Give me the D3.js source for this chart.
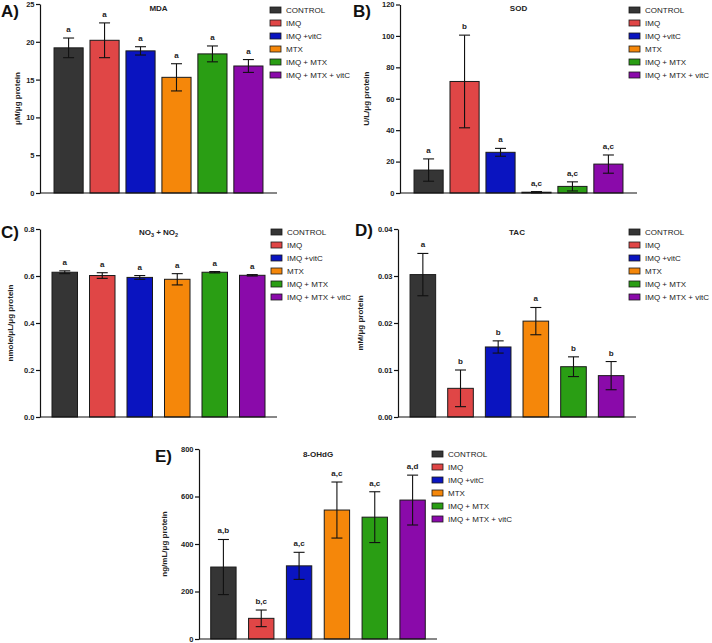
<!DOCTYPE html>
<html><head><meta charset="utf-8">
<script src="https://cdn.jsdelivr.net/npm/d3@7"></script>
<style>body{margin:0;background:#fff}svg{display:block}text{font-family:"Liberation Sans",Arial,sans-serif}</style>
</head><body>
<svg id="c" width="712" height="643"></svg>
<script>
const groups = ["CONTROL","IMQ","IMQ +vitC","MTX","IMQ + MTX","IMQ + MTX + vitC"];
const colors = ["#353535","#e04646","#0a14c0","#f5870a","#2a9e14","#8a0aaa"];

const mdaMean = [19.2,20.2,18.8,15.3,18.4,16.8];
const mdaSd   = [1.3,2.3,0.55,1.8,1.05,0.85];
const mdaSig  = ["a","a","a","a","a","a"];
const mdaTicks = [0,5,10,15,20,25];

const sodMean = [14.6,71.0,25.9,0.5,4.2,18.4];
const sodSd   = [7.1,29.5,2.5,0.4,2.9,5.8];
const sodSig  = ["a","b","a","a,c","a,c","a,c"];
const sodTicks = [0,20,40,60,80,100,120];

const noMean = [0.616,0.602,0.594,0.586,0.616,0.603];
const noSd   = [0.006,0.012,0.008,0.024,0.003,0.003];
const noSig  = ["a","a","a","a","a","a"];
const noTicks = [0,0.2,0.4,0.6,0.8];

const tacMean = [0.0303,0.0061,0.0149,0.0204,0.0107,0.0088];
const tacSd   = [0.0045,0.0039,0.0013,0.0029,0.0021,0.0030];
const tacSig  = ["a","b","b","a","b","b"];
const tacTicks = [0,0.01,0.02,0.03,0.04];

const ohMean = [303,87,308,543,513,585];
const ohSd   = [116,35,57,118,107,105];
const ohSig  = ["a,b","b,c","a,c","a,c","a,c","a,d"];
const ohTicks = [0,200,400,600,800];

const svg = d3.select("#c");

function panel(cfg){
  const g = svg.append("g");
  const x = d3.scaleBand().domain(groups).range([cfg.ax, cfg.axEnd])
    .paddingInner(cfg.pi).paddingOuter(cfg.po);
  const y = d3.scaleLinear().domain([0, cfg.ticks[cfg.ticks.length-1]]).range([cfg.y0, cfg.y1]);
  const cx = x.bandwidth()/2;

  g.selectAll("rect.bar").data(groups).join("rect").attr("class","bar")
    .attr("x", d=>x(d)).attr("width", x.bandwidth())
    .attr("y", (d,i)=>y(cfg.mean[i])).attr("height",(d,i)=>y(0)-y(cfg.mean[i]))
    .attr("fill",(d,i)=>colors[i]).attr("stroke","#1a1a1a").attr("stroke-width",1);

  const eb = g.selectAll("g.eb").data(groups).join("g").attr("class","eb");
  const lo = i=>y(Math.max(0,cfg.mean[i]-cfg.sd[i]));
  const hi = i=>y(cfg.mean[i]+cfg.sd[i]);
  eb.append("line").attr("x1",d=>x(d)+cx).attr("x2",d=>x(d)+cx)
    .attr("y1",(d,i)=>lo(i)).attr("y2",(d,i)=>hi(i))
    .attr("stroke","#111").attr("stroke-width",1.1);
  eb.append("line").attr("x1",d=>x(d)+cx-5.5).attr("x2",d=>x(d)+cx+5.5)
    .attr("y1",(d,i)=>hi(i)).attr("y2",(d,i)=>hi(i))
    .attr("stroke","#111").attr("stroke-width",1.1);
  eb.append("line").attr("x1",d=>x(d)+cx-5.5).attr("x2",d=>x(d)+cx+5.5)
    .attr("y1",(d,i)=>lo(i)).attr("y2",(d,i)=>lo(i))
    .attr("stroke","#111").attr("stroke-width",1.1);
  eb.append("text").attr("x",d=>x(d)+cx).attr("y",(d,i)=>hi(i)-6)
    .attr("text-anchor","middle").attr("font-size",8).attr("font-weight","bold").attr("fill","#222")
    .text((d,i)=>cfg.sig[i]);

  const ya = g.append("g").attr("transform",`translate(${cfg.ax},0)`)
    .call(d3.axisLeft(y).tickValues(cfg.ticks).tickFormat(cfg.fmt).tickSize(4).tickSizeOuter(0));
  ya.select(".domain").attr("stroke","#111").attr("stroke-width",1.2);
  ya.selectAll(".tick line").attr("stroke","#111").attr("stroke-width",1.2);
  ya.selectAll(".tick text").attr("font-size",7.5).attr("font-weight","bold").attr("fill","#222")
    .attr("font-family","Liberation Sans, Arial, sans-serif").attr("x",-5.5);
  g.append("line").attr("x1",cfg.ax).attr("x2",cfg.axEnd).attr("y1",y(0)).attr("y2",y(0))
    .attr("stroke","#111").attr("stroke-width",1.2);

  g.append("text").attr("transform",`translate(${cfg.ax+cfg.ylOff},${(cfg.y0+cfg.y1)/2}) rotate(-90)`)
    .attr("text-anchor","middle").attr("font-size",8).attr("font-weight","bold").attr("fill","#222")
    .text(cfg.ylabel);

  const t = g.append("text").attr("x",(cfg.ax+cfg.axEnd)/2).attr("y",cfg.titleY)
    .attr("text-anchor","middle").attr("font-size",8).attr("font-weight","bold").attr("fill","#222");
  cfg.title.forEach(p=>{
    const ts = t.append("tspan").text(p.t);
    if(p.sub) ts.attr("font-size",5.5).attr("dy",2); else if(p.up) ts.attr("dy",-2);
  });

  g.append("text").attr("x",cfg.lx).attr("y",cfg.ly).attr("font-size",17).attr("font-weight","bold")
    .attr("fill","#111").text(cfg.letter);

  const lg = g.selectAll("g.lg").data(groups).join("g").attr("class","lg")
    .attr("transform",(d,i)=>`translate(${cfg.lgx},${cfg.lgy+i*13})`);
  lg.append("rect").attr("x",0).attr("y",-3).attr("width",11).attr("height",6)
    .attr("fill",(d,i)=>colors[i]).attr("stroke","#1a1a1a").attr("stroke-width",0.8);
  lg.append("text").attr("x",16).attr("y",3).attr("font-size",8).attr("fill","#222").text(d=>d);
}

panel({mean:mdaMean,sd:mdaSd,sig:mdaSig,ticks:mdaTicks,fmt:d3.format("d"),
  ax:40,axEnd:277,y0:193,y1:4,pi:0.19,po:0.39,ylabel:"μM/μg protein",ylOff:-20,
  title:[{t:"MDA"}],titleY:11,letter:"A)",lx:1,ly:17,lgx:270,lgy:10});
panel({mean:sodMean,sd:sodSd,sig:sodSig,ticks:sodTicks,fmt:d3.format("d"),
  ax:400,axEnd:637,y0:193,y1:4.5,pi:0.19,po:0.39,ylabel:"U/L/μg protein",ylOff:-31,
  title:[{t:"SOD"}],titleY:11,letter:"B)",lx:353,ly:17,lgx:629,lgy:10});
panel({mean:noMean,sd:noSd,sig:noSig,ticks:noTicks,fmt:d3.format(".1f"),
  ax:40,axEnd:277,y0:417,y1:229,pi:0.32,po:0.32,ylabel:"nmole/μL/μg protein",ylOff:-27,
  title:[{t:"NO"},{t:"3",sub:true},{t:" + NO",up:true},{t:"2",sub:true}],titleY:235,letter:"C)",lx:1,ly:238,lgx:271,lgy:232});
panel({mean:tacMean,sd:tacSd,sig:tacSig,ticks:tacTicks,fmt:d3.format(".2f"),
  ax:398,axEnd:636,y0:417,y1:229,pi:0.32,po:0.32,ylabel:"mM/μg protein",ylOff:-35,
  title:[{t:"TAC"}],titleY:235,letter:"D)",lx:355,ly:236,lgx:629,lgy:232});
panel({mean:ohMean,sd:ohSd,sig:ohSig,ticks:ohTicks,fmt:d3.format("d"),
  ax:199,axEnd:437,y0:639,y1:449,pi:0.33,po:0.31,ylabel:"ng/mL/μg protein",ylOff:-32,
  title:[{t:"8-OHdG"}],titleY:457,letter:"E)",lx:155,ly:462,lgx:432,lgy:454});
</script>
</body></html>
